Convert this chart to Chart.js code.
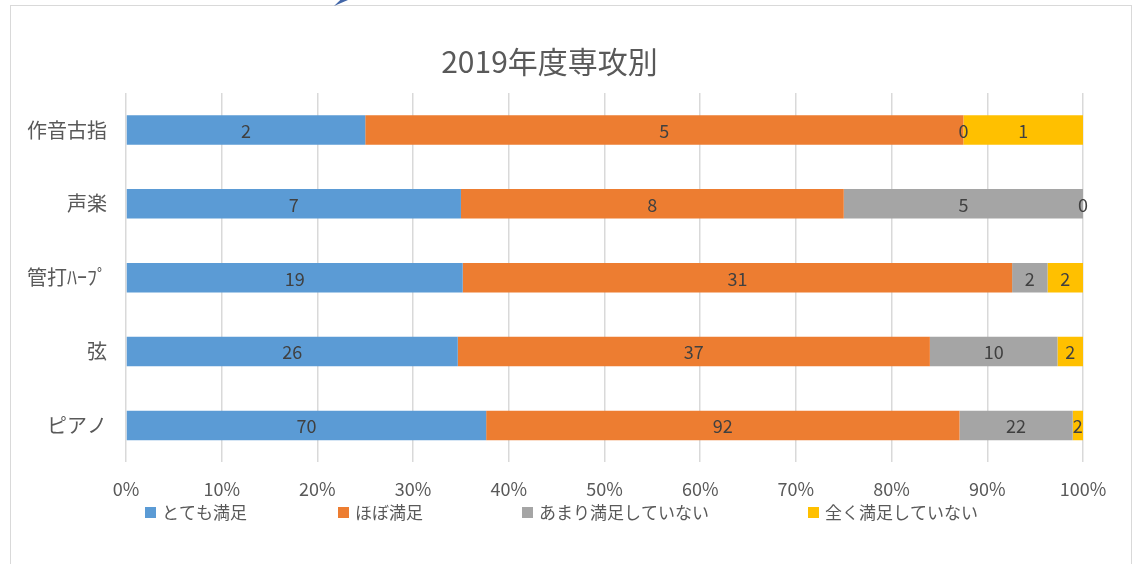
<!DOCTYPE html>
<html>
<head>
<meta charset="utf-8">
<script src="https://cdn.jsdelivr.net/npm/chart.js"></script>
<style>
body{margin:0;background:#fff;}
#frame{position:absolute;left:10px;top:5px;width:1120px;height:600px;border:1px solid #d9d9d9;}
#arrow{position:absolute;left:334px;top:0;width:14px;height:6px;background:#4266a8;clip-path:polygon(100% 0,0 100%,45% 0);}
#wrap{position:absolute;left:0;top:0;width:1135px;height:564px;}
</style>
</head>
<body>
<div id="frame"></div>
<div id="arrow"></div>
<div id="wrap"><canvas id="barChart" width="1135" height="564"></canvas></div>
<script>
const ctx=document.getElementById('barChart')
const senko=['作音古指','声楽','管打ﾊｰﾌﾟ','弦','ピアノ'];
const names=['とても満足','ほぼ満足','あまり満足していない','全く満足していない'];
const totemo=[2,7,19,26,70];
const hobo=[5,8,31,37,92];
const amari=[0,5,2,10,22];
const mattaku=[1,0,2,2,2];
const colors=['#5B9BD5','#ED7D31','#A5A5A5','#FFC000'];

const counts=[totemo,hobo,amari,mattaku];
const totals=senko.map((s,j)=>counts.reduce((a,c)=>a+c[j],0));
const pct=arr=>arr.map((v,j)=>v/totals[j]*100);

const FONT="'Noto Sans CJK JP','Noto Sans',sans-serif";

// 値ラベル（件数）をバーの中央に描く
const valueLabels={
    id:'valueLabels',
    afterDatasetsDraw(chart){
        const c=chart.ctx;
        c.save();
        c.font='18px '+FONT;
        c.fillStyle='#404040';
        c.textAlign='center';
        c.textBaseline='middle';
        chart.data.datasets.forEach((ds,i)=>{
            chart.getDatasetMeta(i).data.forEach((bar,j)=>{
                c.fillText(String(counts[i][j]),(bar.x+bar.base)/2,bar.y+1);
            });
        });
        c.restore();
    }
};

// Excel風の凡例
const excelLegend={
    id:'excelLegend',
    afterDraw(chart){
        const c=chart.ctx;
        const xs=[145,338,522,808];
        c.save();
        c.font='17px '+FONT;
        c.textBaseline='middle';
        c.textAlign='left';
        names.forEach((n,i)=>{
            c.fillStyle=colors[i];
            c.fillRect(xs[i],507,11,11);
            c.fillStyle='#595959';
            c.fillText(n,xs[i]+17,513);
        });
        c.restore();
    }
};

new Chart(ctx,{
    type:'bar',
    data:{
        labels:senko,
        datasets:counts.map((arr,i)=>({
            label:names[i],
            data:pct(arr),
            backgroundColor:colors[i],
            barPercentage:0.4,
            categoryPercentage:1
        }))
    },
    options:{
        indexAxis:'y',
        responsive:false,
        animation:false,
        layout:{padding:{left:16,right:52,top:0,bottom:48}},
        scales:{
            x:{
                stacked:true,
                min:0,
                max:100,
                ticks:{stepSize:10,padding:16,color:'#595959',font:{family:FONT,size:18},callback:v=>v+'%'},
                grid:{color:'#d9d9d9',lineWidth:1.5,drawTicks:false},
                border:{display:false}
            },
            y:{
                stacked:true,
                ticks:{padding:19,color:'#595959',font:{family:FONT,size:20}},
                grid:{display:false,drawTicks:false},
                border:{display:false},
                afterFit(s){s.width=110}
            }
        },
        plugins:{
            title:{
                display:true,
                text:'2019年度専攻別',
                color:'#595959',
                font:{family:FONT,size:30,weight:'normal'},
                padding:{top:44,bottom:13}
            },
            legend:{display:false},
            tooltip:{enabled:false}
        }
    },
    plugins:[valueLabels,excelLegend]
})
</script>
</body>
</html>
